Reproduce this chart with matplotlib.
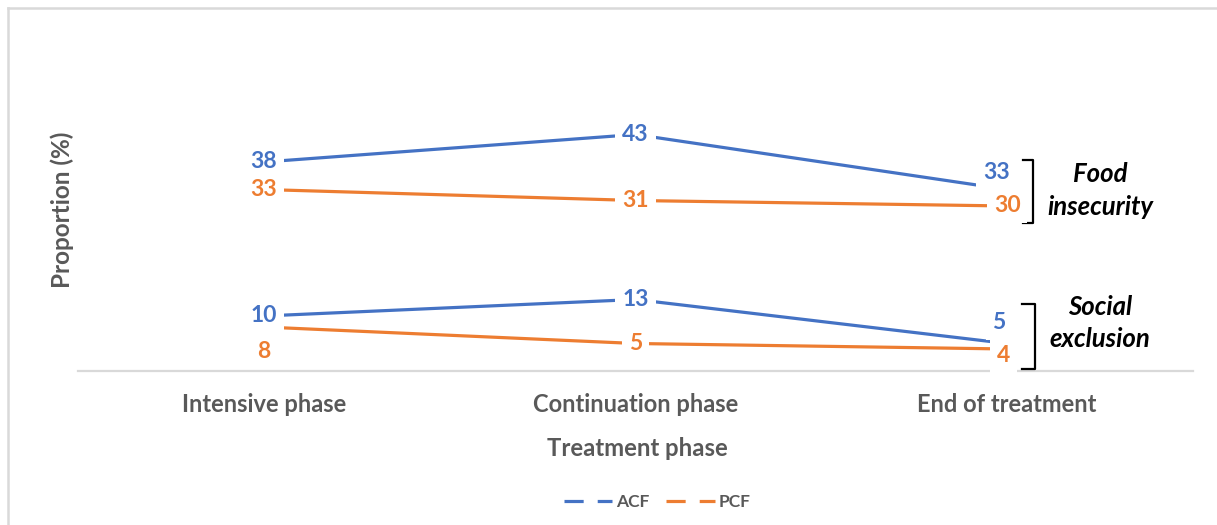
import matplotlib.pyplot as plt
from matplotlib.lines import Line2D

plt.rcParams['font.family'] = ['Lato', 'DejaVu Sans']

phases = ['Intensive phase', 'Continuation phase', 'End of treatment']

# proportions (%) by treatment phase
acf_food = [38, 43, 33]
pcf_food = [33, 31, 30]
acf_social = [10, 13, 5]
pcf_social = [8, 5, 4]

BLUE = '#4472C4'
ORANGE = '#ED7D31'
GREY = '#595959'

W, H = 1217, 525
fig = plt.figure(figsize=(W / 100, H / 100), dpi=100)
ax = fig.add_axes([78 / W, (H - 371) / H, (1193 - 78) / W, 330 / H])

x = list(range(len(phases)))
ax.plot(x, acf_food, color=BLUE, lw=2.3, solid_capstyle='butt')
ax.plot(x, pcf_food, color=ORANGE, lw=2.3, solid_capstyle='butt')
ax.plot(x, acf_social, color=BLUE, lw=2.3, solid_capstyle='butt')
ax.plot(x, pcf_social, color=ORANGE, lw=2.3, solid_capstyle='butt')

ax.set_xlim(-0.5, 2.5)
ax.set_ylim(0, 60)

# data labels, mostly centred on the point with a white box over the line
label_offsets = {
    'acf_food': [(0, 0), (0, 0), (-11, 17)],
    'pcf_food': [(0, 0), (0, 0), (0, 0)],
    'acf_social': [(0, 0), (0, 0), (-8, 21)],
    'pcf_social': [(0, -25), (0, 0), (-4, -7)],
}
series = {'acf_food': (acf_food, BLUE), 'pcf_food': (pcf_food, ORANGE),
          'acf_social': (acf_social, BLUE), 'pcf_social': (pcf_social, ORANGE)}
for key, (vals, col) in series.items():
    for i, v in enumerate(vals):
        dx, dy = label_offsets[key][i]
        ax.annotate(str(v), (i, v), xytext=(dx * 0.72, dy * 0.72),
                    textcoords='offset points', ha='center', va='center',
                    fontsize=16.5, fontweight='bold', color=col,
                    bbox=dict(boxstyle='square,pad=0.3', fc='white', ec='none'),
                    annotation_clip=False)

for side in ['top', 'right', 'left']:
    ax.spines[side].set_visible(False)
ax.spines['bottom'].set_color('#D9D9D9')
ax.spines['bottom'].set_linewidth(1.6)
ax.spines['bottom'].set_zorder(0)
ax.set_yticks([])
ax.set_xticks(x)
ax.set_xticklabels(phases, fontsize=17, fontweight='bold', color=GREY)
ax.tick_params(axis='x', length=0, pad=16)

fig.text(637 / W, 1 - 449 / H, 'Treatment phase', ha='center', va='center',
         fontsize=17.2, fontweight='bold', color=GREY)
fig.text(62 / W, 1 - 210 / H, 'Proportion (%)', ha='center', va='center',
         rotation=90, fontsize=17.5, fontweight='bold', color=GREY)

# brackets grouping the two outcomes
def bracket(x_line, x_tick, y_top, y_bot):
    ax.plot([x_tick, x_line, x_line, x_tick], [y_top, y_top, y_bot, y_bot],
            color='black', lw=1.6, clip_on=False)

bracket(2.069, 2.042, 38.4, 26.9)
bracket(2.074, 2.040, 12.2, 0.4)

for txt, ypx in [('Food', 174), ('insecurity', 207), ('Social', 307), ('exclusion', 339)]:
    fig.text(1100 / W, 1 - ypx / H, txt, ha='center', va='center', fontsize=18.5,
             fontweight='bold', style='italic', color='black')

handles = [Line2D([], [], color=BLUE, lw=2.3, dashes=(6, 4.4)),
           Line2D([], [], color=ORANGE, lw=2.3, dashes=(6, 4.4))]
leg = fig.legend(handles, ['ACF', 'PCF'], loc='center', bbox_to_anchor=(657 / W, 1 - 502 / H),
                 ncol=2, frameon=False, fontsize=12.5, handlelength=2.8,
                 handletextpad=0.2, columnspacing=1.0)
for t in leg.get_texts():
    t.set_color(GREY)
    t.set_fontweight('bold')

# outer frame, only the top and left edges fall inside the image
fig.add_artist(Line2D([8 / W, 1], [1 - 8 / H, 1 - 8 / H], color='#D9D9D9', lw=1.8))
fig.add_artist(Line2D([8 / W, 8 / W], [1 - 8 / H, 0], color='#D9D9D9', lw=1.8))

fig.savefig('out.png', dpi=100, facecolor='white')
